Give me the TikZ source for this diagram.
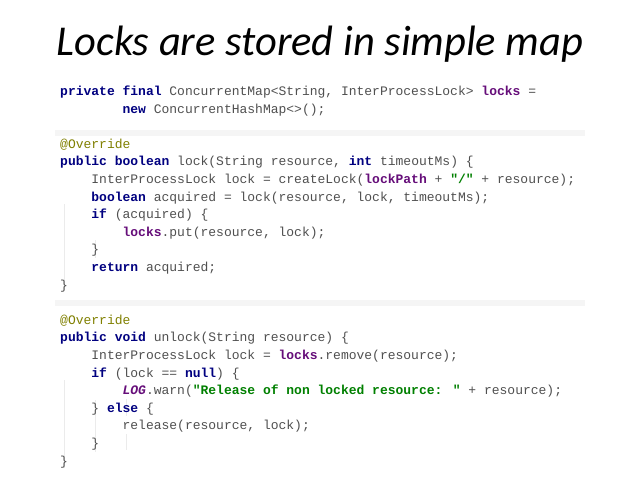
\documentclass[tikz,border=0pt]{standalone}
\usepackage{fontspec}
\setmainfont{Carlito}
\newfontfamily\codefont{Liberation Mono}
\definecolor{kw}{HTML}{000080}
\definecolor{txt}{HTML}{505050}
\definecolor{fld}{HTML}{660E7A}
\definecolor{str}{HTML}{008000}
\definecolor{ann}{HTML}{808000}
\newcommand{\K}[1]{\textcolor{kw}{\bfseries #1}}
\newcommand{\F}[1]{\textcolor{fld}{\bfseries #1}}
\newcommand{\St}[1]{\textcolor{str}{\bfseries #1}}
\newcommand{\IA}{\hphantom{xxxx}}
\newcommand{\IB}{\hphantom{xxxxxxxx}}
\begin{document}
\begin{tikzpicture}[x=1pt,y=-1pt,
  code/.style={anchor=west,inner sep=0pt,font=\codefont\fontsize{13}{14}\selectfont,text=txt},
  guide/.style={draw=black!8,line width=0.6pt}]
\fill[white] (0,0) rectangle (638,479);
\useasboundingbox (0,0) rectangle (638,479);
\node[anchor=center,font=\itshape\fontsize{42.5}{48}\selectfont] (title) at (320,44) {Locks are stored in simple map};
\fill[black!4] (55,130) rectangle (585,136);
\fill[black!4] (55,300) rectangle (585,306);
\draw[guide] (64,204) -- (64,290);
\draw[guide] (95,240) -- (95,258);
\draw[guide] (64,380) -- (64,468);
\draw[guide] (95,400) -- (95,452);
\draw[guide] (126,399) -- (126,416);
\draw[guide] (126,434) -- (126,450);
\node[code] (l1) at (60,92) {\K{private} \K{final} ConcurrentMap<String, InterProcessLock> \F{locks} =};
\node[code] (l2) at (60,110) {\IB\K{new} ConcurrentHashMap<>();};
\node[code] (l3) at (60,145) {\textcolor{ann}{@Override}};
\node[code] (l4) at (60,162.6) {\K{public} \K{boolean} lock(String resource, \K{int} timeoutMs) \{};
\node[code] (l5) at (60,180.2) {\IA InterProcessLock lock = createLock(\F{lockPath} + \St{"/"} + resource);};
\node[code] (l6) at (60,197.8) {\IA\K{boolean} acquired = lock(resource, lock, timeoutMs);};
\node[code] (l7) at (60,215.4) {\IA\K{if} (acquired) \{};
\node[code] (l8) at (60,233) {\IB\F{locks}.put(resource, lock);};
\node[code] (l9) at (60,250.6) {\IA\}};
\node[code] (l10) at (60,268.2) {\IA\K{return} acquired;};
\node[code] (l11) at (60,285.8) {\}};
\node[code] (m1) at (60,321) {\textcolor{ann}{@Override}};
\node[code] (m2) at (60,338.6) {\K{public} \K{void} unlock(String resource) \{};
\node[code] (m3) at (60,356.2) {\IA InterProcessLock lock = \F{locks}.remove(resource);};
\node[code] (m4) at (60,373.8) {\IA\K{if} (lock == \K{null}) \{};
\node[code] (m5) at (60,391.4) {\IB\textcolor{fld}{\bfseries\itshape LOG}.warn(\St{"Release of non locked resource: "} + resource);};
\node[code] (m6) at (60,409) {\IA\} \K{else} \{};
\node[code] (m7) at (60,426.6) {\IB release(resource, lock);};
\node[code] (m8) at (60,444.2) {\IA\}};
\node[code] (m9) at (60,461.8) {\}};
\end{tikzpicture}
\end{document}
